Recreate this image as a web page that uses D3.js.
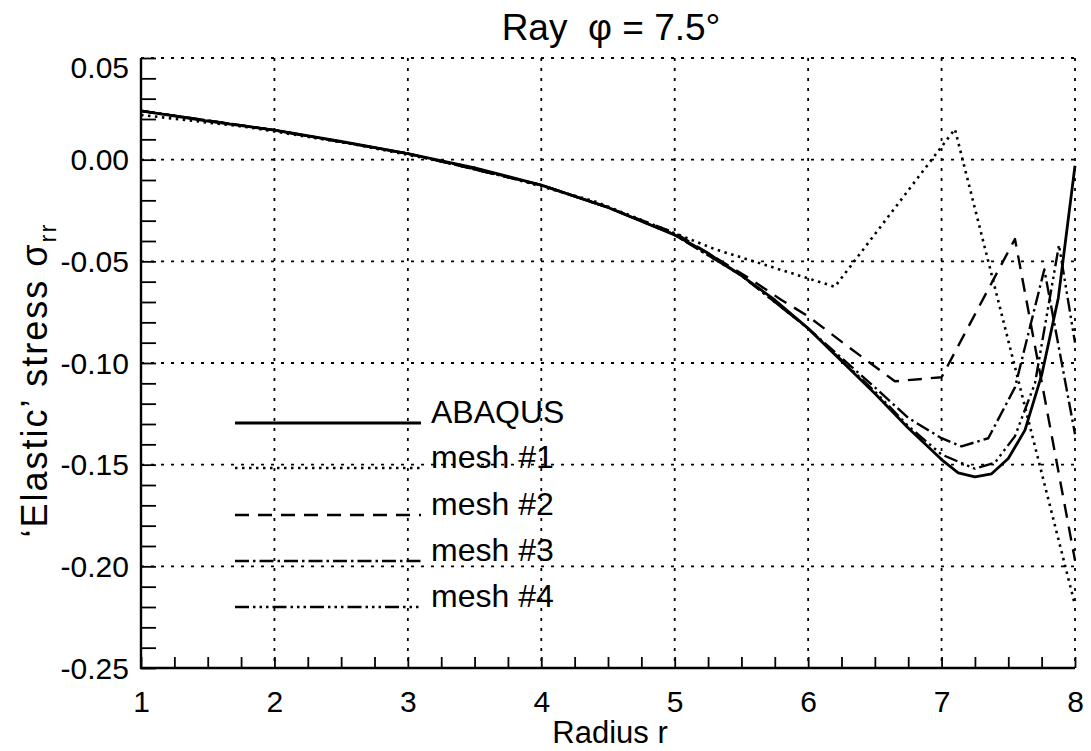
<!DOCTYPE html>
<html>
<head>
<meta charset="utf-8">
<script src="https://cdn.jsdelivr.net/npm/d3@7"></script>
<style>
  body { margin: 0; background: #fff; }
  svg text { font-family: "Liberation Sans", Arial, Helvetica, sans-serif; fill: #000; white-space: pre; }
</style>
</head>
<body>
<div id="chart"></div>
<script>
// ray phi = 7.5 deg, radial stress along the ray
const xTicks = [1, 2, 3, 4, 5, 6, 7, 8];
const yTicks = [0.05, 0.00, -0.05, -0.10, -0.15, -0.20, -0.25];

const abaqusR = [1.0, 1.5, 2.0, 2.5, 3.0, 3.5, 4.0, 4.5, 5.0, 5.25, 5.5, 5.75, 6.0, 6.25, 6.5, 6.75, 7.0, 7.125, 7.25, 7.375, 7.5, 7.625, 7.75, 7.875, 8.0];
const abaqusS = [0.024, 0.019, 0.0145, 0.009, 0.003, -0.004, -0.0125, -0.0235, -0.037, -0.046, -0.057, -0.069, -0.083, -0.099, -0.115, -0.132, -0.1475, -0.154, -0.156, -0.1545, -0.147, -0.133, -0.106, -0.068, -0.003];

const mesh1R = [1.0, 1.8, 2.6, 3.5, 4.4, 5.3, 6.2, 7.1, 8.0];
const mesh1S = [0.022, 0.016, 0.0075, -0.004, -0.0205, -0.044, -0.0625, 0.015, -0.219];

const mesh2R = [1.0, 2.0, 3.0, 4.0, 4.5, 5.0, 5.3, 5.55, 5.8, 6.0, 6.3, 6.65, 7.0, 7.55, 8.0];
const mesh2S = [0.024, 0.0145, 0.003, -0.0125, -0.0235, -0.036, -0.048, -0.058, -0.069, -0.077, -0.092, -0.109, -0.107, -0.039, -0.197];

const mesh3R = [1.0, 2.0, 3.0, 4.0, 4.5, 5.0, 5.5, 6.0, 6.5, 6.75, 7.0, 7.15, 7.35, 7.55, 7.77, 8.0];
const mesh3S = [0.024, 0.0145, 0.003, -0.0125, -0.0235, -0.037, -0.057, -0.083, -0.112, -0.127, -0.137, -0.141, -0.137, -0.112, -0.054, -0.135];

const mesh4R = [1.0, 2.0, 3.0, 4.0, 4.5, 5.0, 5.5, 6.0, 6.5, 6.75, 7.0, 7.25, 7.4, 7.55, 7.7, 7.88, 8.0];
const mesh4S = [0.024, 0.0145, 0.003, -0.0125, -0.0235, -0.037, -0.057, -0.083, -0.114, -0.131, -0.145, -0.152, -0.149, -0.136, -0.11, -0.042, -0.09];

const seriesNames = ['ABAQUS', 'mesh #1', 'mesh #2', 'mesh #3', 'mesh #4'];

const W = 1091, H = 751;
const svg = d3.select('#chart').append('svg').attr('width', W).attr('height', H);

const x = d3.scaleLinear().domain([1, 8]).range([141, 1075]);
const y = d3.scaleLinear().domain([-0.25, 0.05]).range([668, 58]);

const gridDash = '3,7';

// dotted grid (also makes the top and right border)
svg.append('g').selectAll('line').data(xTicks.slice(1)).enter().append('line')
  .attr('x1', (d) => x(d)).attr('x2', (d) => x(d))
  .attr('y1', y(0.05)).attr('y2', y(-0.25))
  .attr('stroke', '#000').attr('stroke-width', 1.8).attr('stroke-dasharray', gridDash);
svg.append('g').selectAll('line').data(yTicks.slice(0, -1)).enter().append('line')
  .attr('x1', x(1)).attr('x2', x(8))
  .attr('y1', (d) => y(d)).attr('y2', (d) => y(d))
  .attr('stroke', '#000').attr('stroke-width', 1.8).attr('stroke-dasharray', gridDash);

// minor ticks pointing inward
const yMinor = d3.range(-0.25, 0.0501, 0.01);
const xMinor = d3.range(1, 8.001, 0.25);
svg.append('g').attr('transform', `translate(${x(1)},0)`)
  .call(d3.axisRight(y).tickValues(yMinor).tickSize(15).tickFormat(''))
  .call((g) => g.select('.domain').remove())
  .selectAll('line').attr('stroke-width', 1.8);
svg.append('g').attr('transform', `translate(0,${y(-0.25)})`)
  .call(d3.axisTop(x).tickValues(xMinor).tickSize(11).tickFormat(''))
  .call((g) => g.select('.domain').remove())
  .selectAll('line').attr('stroke-width', 1.8);

// solid left and bottom axis lines
svg.append('line').attr('x1', x(1)).attr('x2', x(1)).attr('y1', y(0.05)).attr('y2', y(-0.25) + 1)
  .attr('stroke', '#000').attr('stroke-width', 2.4);
svg.append('line').attr('x1', x(1) - 1).attr('x2', x(8)).attr('y1', y(-0.25)).attr('y2', y(-0.25))
  .attr('stroke', '#000').attr('stroke-width', 2.4);

// tick labels
const yAx = svg.append('g').attr('transform', `translate(${x(1)},0)`)
  .call(d3.axisLeft(y).tickValues(yTicks).tickSize(0).tickPadding(12).tickFormat((d) => d.toFixed(2)));
yAx.select('.domain').remove();
yAx.selectAll('text').style('font-size', '30px').attr('dy', (d) => (d === 0.05 ? '0.65em' : '0.34em'));

const xAx = svg.append('g').attr('transform', `translate(0,${y(-0.25)})`)
  .call(d3.axisBottom(x).tickValues(xTicks).tickSize(0).tickPadding(23).tickFormat(d3.format('d')));
xAx.select('.domain').remove();
xAx.selectAll('text').style('font-size', '30px');

// titles
svg.append('text').attr('x', 611).attr('y', 40).attr('text-anchor', 'middle')
  .style('font-size', '37px').text('Ray  \u03c6 = 7.5\u00b0');
svg.append('text').attr('x', 610).attr('y', 743).attr('text-anchor', 'middle')
  .style('font-size', '31px').text('Radius r');
const yl = svg.append('text').attr('transform', 'translate(47,380) rotate(-90)')
  .attr('text-anchor', 'middle').style('font-size', '36px').style('letter-spacing', '2px');
yl.append('tspan').text('\u2018Elastic\u2019 stress \u03c3');
yl.append('tspan').attr('dy', 9).style('font-size', '24px').text('rr');

// curves
const styles = [
  { dash: null, w: 2.8 },
  { dash: '2.5,4.5', w: 2.6 },
  { dash: '14,9', w: 2.4 },
  { dash: '14,4,2.5,4', w: 2.4 },
  { dash: '14,4,2.5,4,2.5,4,2.5,4', w: 2.4 },
];
const rs = [abaqusR, mesh1R, mesh2R, mesh3R, mesh4R];
const ss = [abaqusS, mesh1S, mesh2S, mesh3S, mesh4S];
const line = d3.line().x((d) => x(d[0])).y((d) => y(d[1]));

rs.forEach((r, i) => {
  svg.append('path')
    .datum(r.map((v, j) => [v, ss[i][j]]))
    .attr('d', line)
    .attr('fill', 'none')
    .attr('stroke', '#000')
    .attr('stroke-width', styles[i].w)
    .attr('stroke-dasharray', styles[i].dash)
    .attr('stroke-linejoin', 'round');
});

// legend
const legY = [423, 468, 515, 561, 607];
const leg = svg.append('g');
seriesNames.forEach((name, i) => {
  leg.append('line').attr('x1', 235).attr('x2', 421).attr('y1', legY[i]).attr('y2', legY[i])
    .attr('stroke', '#000').attr('stroke-width', styles[i].w)
    .attr('stroke-dasharray', styles[i].dash);
  leg.append('text').attr('x', 431).attr('y', legY[i]).style('font-size', '32px').text(name);
});
</script>
</body>
</html>
